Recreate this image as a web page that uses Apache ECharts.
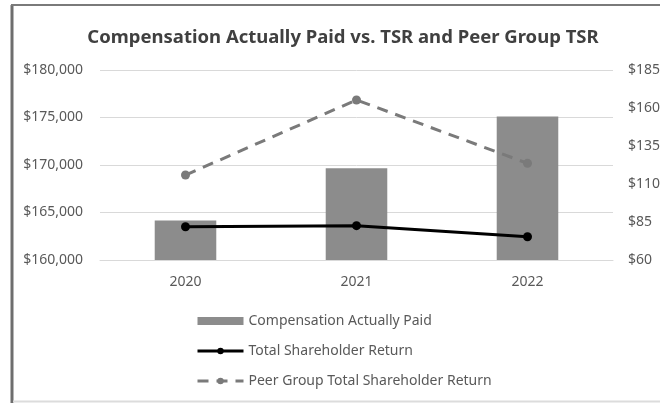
<!DOCTYPE html>
<html>
<head>
<meta charset="utf-8">
<script src="https://cdn.jsdelivr.net/npm/echarts@6/dist/echarts.min.js"></script>
<style>
  html, body { margin: 0; padding: 0; background: #fff; }
  #chart { width: 660px; height: 403px; }
</style>
</head>
<body>
<div id="chart"></div>
<script>
// chart data
const years = ['2020', '2021', '2022']
const compActuallyPaid = [164150, 169650, 175100]
const tsr = [81.9, 82.6, 75.3]
const peerTsr = [115.9, 165.3, 123.6]

const chart = echarts.init(document.getElementById('chart'))
const font = 'Noto Sans'

const option = {
  animation: false,
  textStyle: { fontFamily: font },
  title: {
    text: 'Compensation Actually Paid vs. TSR and Peer Group TSR',
    left: 338,
    textAlign: 'center',
    top: 23,
    textStyle: { fontFamily: font, fontSize: 18.5, fontWeight: 'bold', color: '#404040' }
  },
  // frame of the original chart box (right side is cut off)
  graphic: [
    { type: 'line', shape: { x1: 12, y1: 5, x2: 12, y2: 403 }, style: { stroke: '#6e6e6e', lineWidth: 3 } },
    { type: 'line', shape: { x1: 11, y1: 5, x2: 660, y2: 5 }, style: { stroke: '#7a7a7a', lineWidth: 2 } },
    { type: 'line', shape: { x1: 13, y1: 401.5, x2: 660, y2: 401.5 }, style: { stroke: '#dcdcdc', lineWidth: 2 } }
  ],
  grid: { left: 100, right: 47, top: 70, bottom: 143, outerBoundsMode: 'none' },
  legend: {
    orient: 'vertical',
    left: 191,
    top: 309,
    itemWidth: 46,
    itemHeight: 8,
    itemGap: 16,
    textStyle: { fontFamily: font, fontSize: 14, color: '#595959' },
    data: [
      { name: 'Compensation Actually Paid', icon: 'rect' },
      { name: 'Total Shareholder Return', lineStyle: { width: 3 } },
      { name: 'Peer Group Total Shareholder Return', lineStyle: { width: 3 } }
    ]
  },
  xAxis: {
    type: 'category',
    data: years,
    axisLine: { lineStyle: { color: '#d9d9d9' } },
    axisTick: { show: false },
    axisLabel: { color: '#595959', fontSize: 14, margin: 15 }
  },
  yAxis: [
    {
      type: 'value',
      min: 160000,
      max: 180000,
      interval: 5000,
      axisLabel: {
        color: '#595959',
        fontSize: 14,
        margin: 17,
        formatter: (v) => '$' + v.toLocaleString('en-US')
      },
      splitLine: { lineStyle: { color: '#d9d9d9' } }
    },
    {
      type: 'value',
      min: 60,
      max: 185,
      interval: 25,
      axisLabel: {
        color: '#595959',
        fontSize: 14,
        margin: 15,
        formatter: (v) => '$' + v
      },
      splitLine: { show: false }
    }
  ],
  series: [
    {
      name: 'Compensation Actually Paid',
      type: 'bar',
      data: compActuallyPaid,
      barWidth: '36%',
      itemStyle: { color: '#8c8c8c' }
    },
    {
      name: 'Total Shareholder Return',
      type: 'line',
      yAxisIndex: 1,
      data: tsr,
      symbol: 'circle',
      symbolSize: 9,
      lineStyle: { color: '#000', width: 3 },
      itemStyle: { color: '#000' }
    },
    {
      name: 'Peer Group Total Shareholder Return',
      type: 'line',
      yAxisIndex: 1,
      data: peerTsr,
      symbol: 'circle',
      symbolSize: 9,
      lineStyle: { color: '#7a7a7a', width: 3, type: [11, 8] },
      itemStyle: { color: '#7a7a7a' }
    }
  ]
}

chart.setOption(option)
</script>
</body>
</html>
